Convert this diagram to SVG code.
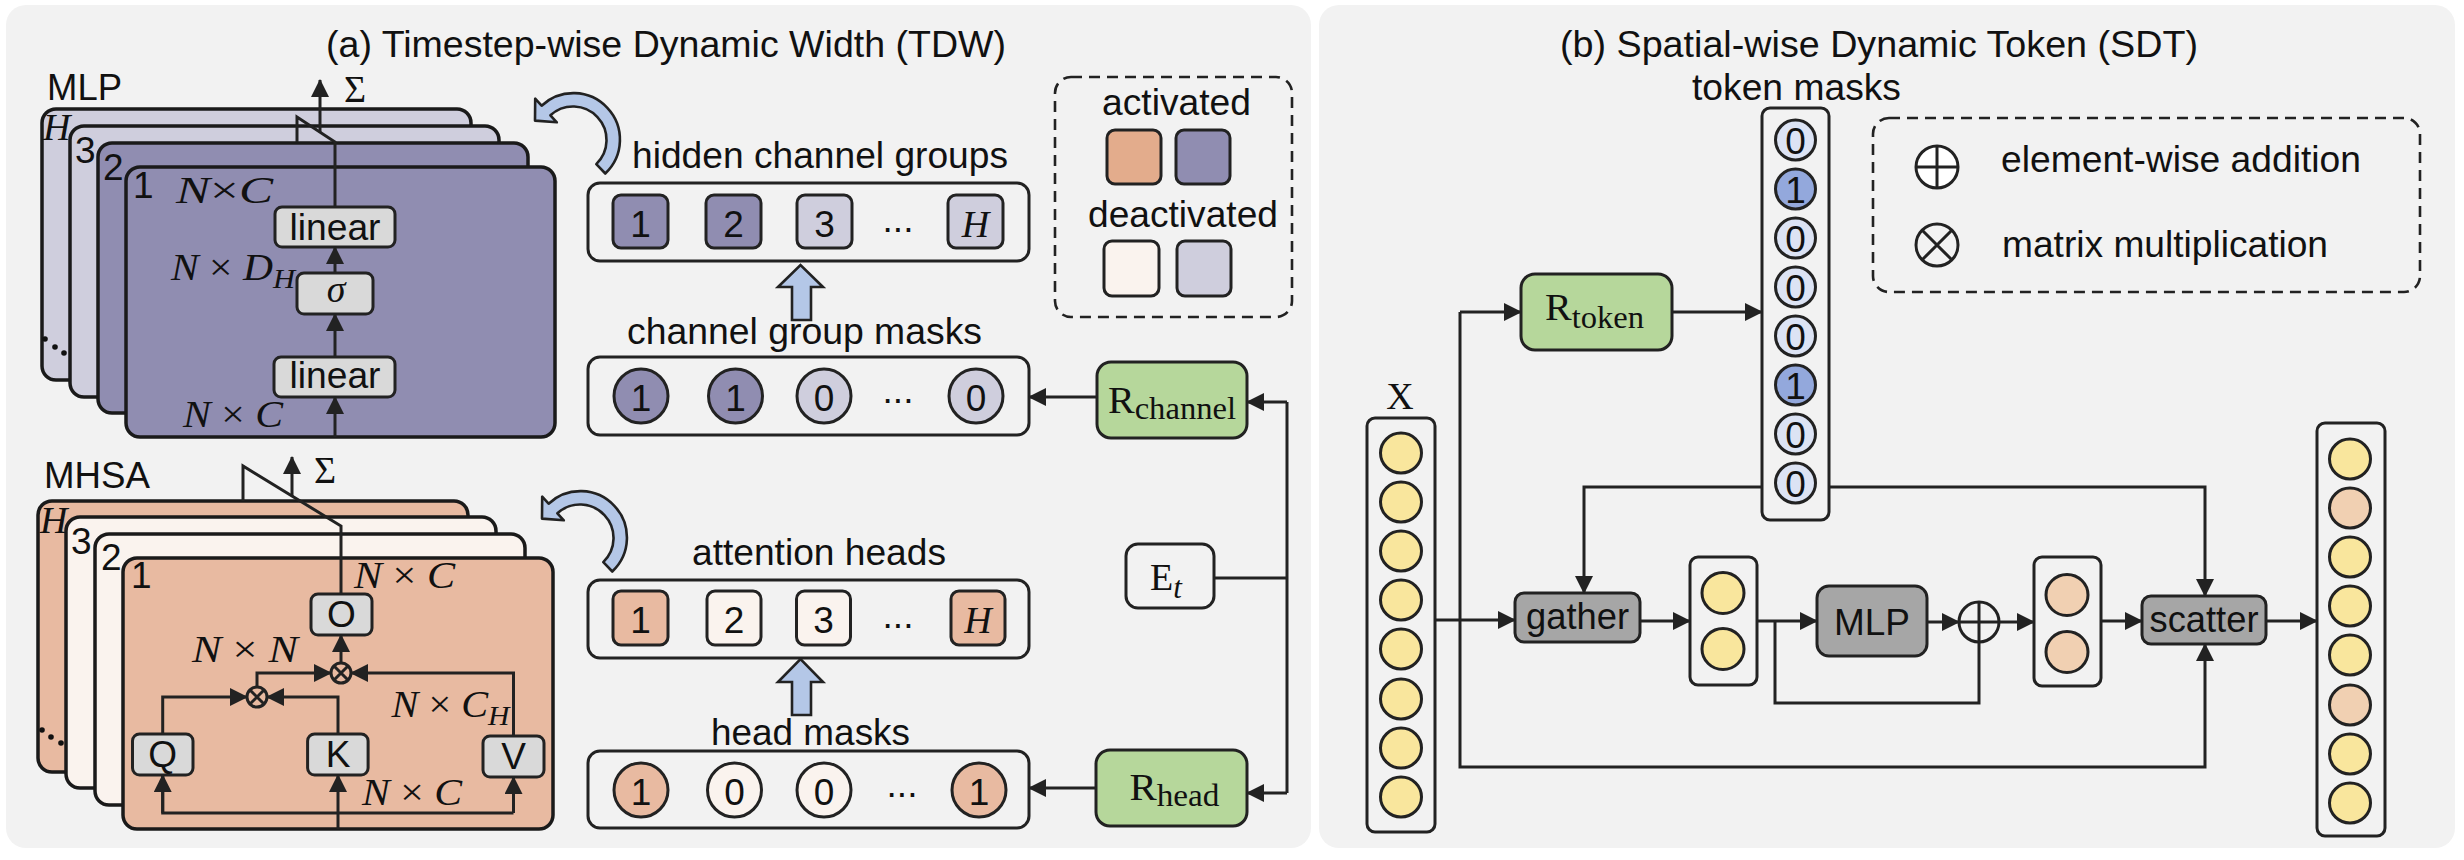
<svg xmlns="http://www.w3.org/2000/svg" width="2464" height="860" viewBox="0 0 2464 860">
<defs>
<style>
.t{font-family:"Liberation Sans",Arial,sans-serif;font-size:37px;fill:#111}
.m{font-family:"Liberation Serif","Times New Roman",serif;font-size:38px;fill:#111}
.i{font-style:italic}
.ln{stroke:#222;stroke-width:3;fill:none}
.bx{stroke:#222;stroke-width:3}
.cd{stroke:#1a1a1a;stroke-width:3.5}
.dash{fill:none;stroke:#222;stroke-width:2.6;stroke-dasharray:11 7}
.pur{fill:#908db1}.lav{fill:#cfcedd}.pea{fill:#e8baa1}.cre{fill:#faf3ee}
.grn{fill:#b6d79b}.lg{fill:#d9d9d9}.dg{fill:#a6a6a6}.blu{fill:#b4c7e7}
.yel{fill:#f9e69d}.opk{fill:#f1d0b2}.m0{fill:#dce3f4}.m1{fill:#93a8dc}
.mid{text-anchor:middle}
</style>
<marker id="ah" markerUnits="userSpaceOnUse" markerWidth="18" markerHeight="18" viewBox="0 0 18 18" refX="17" refY="9" orient="auto"><path d="M0,0 L18,9 L0,18 z" fill="#222"/></marker>
<path id="curv" d="M605.3,173.5 A46.5,46.5 0 0 0 541.6,105.7 L535.2,98.7 L535,120.6 L556.8,122.3 L550.4,115.3 A33.5,33.5 0 0 1 596.3,164.1 Z"/>
</defs>

<g id="panels">
<rect x="6" y="5" width="1305" height="843" rx="20" fill="#f2f2f2"/>
<rect x="1319" y="5" width="1136" height="843" rx="20" fill="#f2f2f2"/>
<text class="t mid" x="666" y="57" textLength="680" lengthAdjust="spacingAndGlyphs">(a) Timestep-wise Dynamic Width (TDW)</text>
<text class="t mid" x="1879" y="57" textLength="638" lengthAdjust="spacingAndGlyphs">(b) Spatial-wise Dynamic Token (SDT)</text>
</g>

<g id="mlp-stack">
<text class="t" x="47" y="100" textLength="75" lengthAdjust="spacingAndGlyphs">MLP</text>
<rect class="cd lav" x="42" y="109" width="429" height="271" rx="14"/>
<rect class="cd lav" x="70" y="126" width="429" height="271" rx="14"/>
<rect class="cd pur" x="98" y="143" width="430" height="270" rx="14"/>
<rect class="cd pur" x="126" y="167" width="429" height="270" rx="14"/>
<text class="m i" x="43" y="140" font-size="32">H</text>
<text class="t" x="75" y="163" font-size="35">3</text>
<text class="t" x="103" y="180" font-size="35">2</text>
<text class="t" x="133" y="198" font-size="35">1</text>
<circle cx="45" cy="339" r="2.8" fill="#111"/><circle cx="55" cy="347" r="2.8" fill="#111"/><circle cx="64" cy="353" r="2.8" fill="#111"/>
</g>

<g id="mlp-inner">
<rect class="bx lg" x="275" y="207" width="120" height="40" rx="7"/>
<text class="t mid" x="335" y="240" textLength="91" lengthAdjust="spacingAndGlyphs">linear</text>
<rect class="bx lg" x="297" y="273" width="76" height="41" rx="7"/>
<text class="m i mid" x="336" y="302" font-size="44">σ</text>
<rect class="bx lg" x="274" y="357" width="121" height="40" rx="7"/>
<text class="t mid" x="335" y="388" textLength="91" lengthAdjust="spacingAndGlyphs">linear</text>
<text class="m" x="176" y="203" textLength="97" lengthAdjust="spacingAndGlyphs"><tspan class="i">N</tspan>×<tspan class="i">C</tspan></text>
<text class="m" x="171" y="280" textLength="124" lengthAdjust="spacingAndGlyphs"><tspan class="i">N</tspan> × <tspan class="i">D</tspan><tspan class="i" font-size="28" dy="8">H</tspan></text>
<text class="m" x="183" y="427" textLength="100" lengthAdjust="spacingAndGlyphs"><tspan class="i">N</tspan> × <tspan class="i">C</tspan></text>
<text class="m" x="344" y="102" font-size="36">Σ</text>
</g>

<g id="mhsa-stack">
<text class="t" x="44" y="488" textLength="106" lengthAdjust="spacingAndGlyphs">MHSA</text>
<rect class="cd pea" x="38" y="501" width="430" height="271" rx="14"/>
<rect class="cd cre" x="66" y="517" width="430" height="271" rx="14"/>
<rect class="cd cre" x="95" y="534" width="430" height="271" rx="14"/>
<rect class="cd pea" x="123" y="558" width="430" height="271" rx="14"/>
<text class="m i" x="40" y="533" font-size="32">H</text>
<text class="t" x="71" y="554" font-size="35">3</text>
<text class="t" x="101" y="570" font-size="35">2</text>
<text class="t" x="131" y="588" font-size="35">1</text>
<circle cx="42" cy="730" r="2.8" fill="#111"/><circle cx="51" cy="737" r="2.8" fill="#111"/><circle cx="61" cy="743" r="2.8" fill="#111"/>
</g>

<g id="mhsa-inner">
<rect class="bx lg" x="311" y="594" width="61" height="41" rx="7"/>
<text class="t mid" x="341.5" y="627" font-size="36">O</text>
<rect class="bx lg" x="132.5" y="734" width="60.5" height="41" rx="7"/>
<text class="t mid" x="162.7" y="767" font-size="36">Q</text>
<rect class="bx lg" x="307.6" y="734" width="60.5" height="41" rx="7"/>
<text class="t mid" x="338" y="767" font-size="36">K</text>
<rect class="bx lg" x="483" y="736" width="61" height="41" rx="7"/>
<text class="t mid" x="513.5" y="769" font-size="36">V</text>
<g class="ln" stroke-width="2.5">
<circle cx="257" cy="697" r="10"/><path d="M250,690 L264,704 M264,690 L250,704"/>
<circle cx="341" cy="673" r="10"/><path d="M334,666 L348,680 M348,666 L334,680"/>
</g>
<text class="m" x="192" y="662" textLength="106" lengthAdjust="spacingAndGlyphs"><tspan class="i">N</tspan> × <tspan class="i">N</tspan></text>
<text class="m" x="354" y="588" textLength="101" lengthAdjust="spacingAndGlyphs"><tspan class="i">N</tspan> × <tspan class="i">C</tspan></text>
<text class="m" x="391.5" y="717" textLength="118" lengthAdjust="spacingAndGlyphs"><tspan class="i">N</tspan> × <tspan class="i">C</tspan><tspan class="i" font-size="28" dy="8">H</tspan></text>
<text class="m" x="362" y="805" textLength="100" lengthAdjust="spacingAndGlyphs"><tspan class="i">N</tspan> × <tspan class="i">C</tspan></text>
<text class="m" x="314" y="483" font-size="36">Σ</text>
</g>

<g id="curved-arrows" class="blu" stroke="#222" stroke-width="2.6" stroke-linejoin="round">
<use href="#curv"/>
<use href="#curv" transform="translate(7,398)"/>
</g>

<g id="hidden-channel-groups">
<text class="t" x="632" y="168" textLength="376" lengthAdjust="spacingAndGlyphs">hidden channel groups</text>
<rect class="bx" fill="none" x="588" y="183" width="441" height="78" rx="12"/>
<rect class="bx pur" x="613" y="195" width="55" height="53" rx="8"/>
<rect class="bx pur" x="706" y="195" width="55" height="53" rx="8"/>
<rect class="bx lav" x="797" y="195" width="55" height="53" rx="8"/>
<rect class="bx lav" x="948" y="195" width="55" height="53" rx="8"/>
<text class="t mid" x="640.5" y="237" font-size="42">1</text>
<text class="t mid" x="733.5" y="237" font-size="42">2</text>
<text class="t mid" x="824.5" y="237" font-size="42">3</text>
<text class="t mid" x="898" y="232">...</text>
<text class="m i mid" x="975.5" y="237" font-size="38">H</text>
</g>

<g id="channel-group-masks">
<path class="blu" stroke="#222" stroke-width="2.6" d="M792,320 L792,287 L778,287 L800.5,265 L823,287 L811,287 L811,320 Z"/>
<text class="t" x="627" y="344" textLength="355" lengthAdjust="spacingAndGlyphs">channel group masks</text>
<rect class="bx" fill="none" x="588" y="357" width="441" height="78" rx="12"/>
<circle class="bx pur" cx="641" cy="396" r="27"/>
<circle class="bx pur" cx="735.5" cy="396" r="27"/>
<circle class="bx lav" cx="824" cy="396" r="27"/>
<circle class="bx lav" cx="976" cy="396" r="27"/>
<text class="t mid" x="641" y="411" font-size="42">1</text>
<text class="t mid" x="735.5" y="411" font-size="42">1</text>
<text class="t mid" x="824" y="411" font-size="42">0</text>
<text class="t mid" x="898" y="403">...</text>
<text class="t mid" x="976" y="411" font-size="42">0</text>
</g>

<g id="attention-heads">
<text class="t" x="692" y="565" textLength="254" lengthAdjust="spacingAndGlyphs">attention heads</text>
<rect class="bx" fill="none" x="588" y="580" width="441" height="78" rx="12"/>
<rect class="bx pea" x="613" y="591" width="55" height="54" rx="8"/>
<rect class="bx cre" x="707" y="591" width="54" height="54" rx="8"/>
<rect class="bx cre" x="796.5" y="591" width="54" height="54" rx="8"/>
<rect class="bx pea" x="951" y="591" width="54" height="54" rx="8"/>
<text class="t mid" x="640.5" y="633" font-size="42">1</text>
<text class="t mid" x="734" y="633" font-size="42">2</text>
<text class="t mid" x="823.5" y="633" font-size="42">3</text>
<text class="t mid" x="898" y="628">...</text>
<text class="m i mid" x="978" y="633" font-size="38">H</text>
</g>

<g id="head-masks">
<path class="blu" stroke="#222" stroke-width="2.6" d="M792,715 L792,682 L778,682 L800.5,659 L823,682 L811,682 L811,715 Z"/>
<text class="t" x="711" y="745" textLength="199" lengthAdjust="spacingAndGlyphs">head masks</text>
<rect class="bx" fill="none" x="588" y="751" width="441" height="77" rx="12"/>
<circle class="bx pea" cx="641" cy="790" r="27"/>
<circle class="bx cre" cx="734.5" cy="790" r="27"/>
<circle class="bx cre" cx="824" cy="790" r="27"/>
<circle class="bx pea" cx="979" cy="790" r="27"/>
<text class="t mid" x="641" y="805" font-size="42">1</text>
<text class="t mid" x="734.5" y="805" font-size="42">0</text>
<text class="t mid" x="824" y="805" font-size="42">0</text>
<text class="t mid" x="902" y="797">...</text>
<text class="t mid" x="979" y="805" font-size="42">1</text>
</g>

<g id="legend-a">
<rect class="dash" x="1055" y="77" width="237" height="240" rx="16"/>
<text class="t" x="1102" y="115" textLength="149" lengthAdjust="spacingAndGlyphs">activated</text>
<rect class="bx" fill="#e3ac8c" x="1107" y="130" width="54" height="54" rx="8"/>
<rect class="bx pur" x="1176" y="130" width="54" height="54" rx="8"/>
<text class="t" x="1088" y="227" textLength="190" lengthAdjust="spacingAndGlyphs">deactivated</text>
<rect class="bx cre" x="1104" y="241" width="55" height="55" rx="8"/>
<rect class="bx lav" x="1177" y="241" width="54" height="55" rx="8"/>
</g>

<g id="r-channel">
<rect class="bx grn" x="1097" y="362" width="150" height="76" rx="14"/>
<text class="m" x="1108" y="413" font-size="42" textLength="128" lengthAdjust="spacingAndGlyphs">R<tspan font-size="31" dy="6">channel</tspan></text>
</g>
<g id="r-head">
<rect class="bx grn" x="1096" y="750" width="151" height="76" rx="14"/>
<text class="m" x="1129.5" y="800" font-size="42" textLength="90" lengthAdjust="spacingAndGlyphs">R<tspan font-size="31" dy="6">head</tspan></text>
</g>
<g id="e-t">
<rect class="bx" fill="none" x="1126" y="544" width="88" height="64" rx="12"/>
<text class="m" x="1150" y="590" font-size="42">E<tspan class="i" font-size="31" dy="8">t</tspan></text>
</g>

<g id="x-column">
<text class="m mid" x="1400" y="409" font-size="40">X</text>
<rect class="bx" fill="none" x="1367" y="418" width="68" height="414" rx="8"/>
<g class="bx yel">
<ellipse cx="1401" cy="453" rx="20.5" ry="20"/><ellipse cx="1401" cy="502" rx="20.5" ry="20"/>
<ellipse cx="1401" cy="551" rx="20.5" ry="20"/><ellipse cx="1401" cy="600" rx="20.5" ry="20"/>
<ellipse cx="1401" cy="649" rx="20.5" ry="20"/><ellipse cx="1401" cy="699" rx="20.5" ry="20"/>
<ellipse cx="1401" cy="748" rx="20.5" ry="20"/><ellipse cx="1401" cy="797" rx="20.5" ry="20"/>
</g>
</g>

<g id="r-token">
<rect class="bx grn" x="1521" y="274" width="151" height="76" rx="14"/>
<text class="m" x="1545" y="320" font-size="40" textLength="99" lengthAdjust="spacingAndGlyphs">R<tspan font-size="31" dy="8">token</tspan></text>
</g>

<g id="token-masks">
<text class="t" x="1692" y="100" textLength="209" lengthAdjust="spacingAndGlyphs">token masks</text>
<rect class="bx" fill="none" x="1762" y="108" width="67" height="412" rx="8"/>
<g class="bx">
<circle class="m0" cx="1795.5" cy="140" r="20"/><circle class="m1" cx="1795.5" cy="189" r="20"/>
<circle class="m0" cx="1795.5" cy="238" r="20"/><circle class="m0" cx="1795.5" cy="287" r="20"/>
<circle class="m0" cx="1795.5" cy="336" r="20"/><circle class="m1" cx="1795.5" cy="385" r="20"/>
<circle class="m0" cx="1795.5" cy="434" r="20"/><circle class="m0" cx="1795.5" cy="483" r="20"/>
</g>
<g class="t mid" font-size="39">
<text x="1795.5" y="154">0</text><text x="1795.5" y="203">1</text>
<text x="1795.5" y="252">0</text><text x="1795.5" y="301">0</text>
<text x="1795.5" y="350">0</text><text x="1795.5" y="399">1</text>
<text x="1795.5" y="448">0</text><text x="1795.5" y="497">0</text>
</g>
</g>

<g id="legend-b">
<rect class="dash" x="1873" y="118" width="547" height="174" rx="16"/>
<g class="ln" stroke-width="2.6">
<circle cx="1937" cy="167" r="21" fill="#fff"/><path d="M1916,167 H1958 M1937,146 V188"/>
<circle cx="1937" cy="245" r="21"/><path d="M1922.2,230.2 L1951.8,259.8 M1951.8,230.2 L1922.2,259.8"/>
</g>
<text class="t" x="2001" y="172" textLength="360" lengthAdjust="spacingAndGlyphs">element-wise addition</text>
<text class="t" x="2002" y="257" textLength="326" lengthAdjust="spacingAndGlyphs">matrix multiplication</text>
</g>

<g id="gather">
<rect class="bx dg" x="1515" y="593" width="125" height="49" rx="9"/>
<text class="t mid" x="1577.5" y="629" font-size="36" textLength="103" lengthAdjust="spacingAndGlyphs">gather</text>
</g>
<g id="gathered-tokens">
<rect class="bx" fill="none" x="1690" y="557" width="67" height="128" rx="8"/>
<ellipse class="bx yel" cx="1723" cy="593" rx="21" ry="20.5"/>
<ellipse class="bx yel" cx="1723" cy="649" rx="21" ry="20.5"/>
</g>
<g id="mlp-b">
<rect class="bx dg" x="1817" y="586" width="110" height="70" rx="12"/>
<text class="t mid" x="1872" y="635" textLength="76" lengthAdjust="spacingAndGlyphs">MLP</text>
</g>
<g id="add">
<circle class="ln" cx="1979" cy="622" r="20" fill="#fff"/>
<path class="ln" d="M1959,622 H1999 M1979,602 V642"/>
</g>
<g id="updated-tokens">
<rect class="bx" fill="none" x="2034" y="557" width="67" height="129" rx="8"/>
<ellipse class="bx opk" cx="2067" cy="595" rx="21" ry="20.5"/>
<ellipse class="bx opk" cx="2067" cy="652" rx="21" ry="20.5"/>
</g>
<g id="scatter">
<rect class="bx dg" x="2142" y="596" width="124" height="48" rx="9"/>
<text class="t mid" x="2204" y="632" font-size="36" textLength="109" lengthAdjust="spacingAndGlyphs">scatter</text>
</g>
<g id="output-column">
<rect class="bx" fill="none" x="2317" y="423" width="68" height="413" rx="8"/>
<g class="bx">
<ellipse class="yel" cx="2350" cy="459" rx="20.5" ry="20"/><ellipse class="opk" cx="2350" cy="508" rx="20.5" ry="20"/>
<ellipse class="yel" cx="2350" cy="557" rx="20.5" ry="20"/><ellipse class="yel" cx="2350" cy="606" rx="20.5" ry="20"/>
<ellipse class="yel" cx="2350" cy="655" rx="20.5" ry="20"/><ellipse class="opk" cx="2350" cy="705" rx="20.5" ry="20"/>
<ellipse class="yel" cx="2350" cy="754" rx="20.5" ry="20"/><ellipse class="yel" cx="2350" cy="803" rx="20.5" ry="20"/>
</g>
</g>

<g id="connectors" class="ln">
<path d="M335,437 V397" marker-end="url(#ah)"/>
<path d="M335,357 V314" marker-end="url(#ah)"/>
<path d="M335,273 V247" marker-end="url(#ah)"/>
<path d="M335,207 V142 L297,117 V142"/>
<path d="M320,132 V80" marker-end="url(#ah)"/>
<path d="M338,829 V775" marker-end="url(#ah)"/>
<path d="M162.7,775 V813 H513.5"/>
<path d="M162.7,813 V775" marker-end="url(#ah)"/>
<path d="M513.5,813 V777" marker-end="url(#ah)"/>
<path d="M162.7,734 V697 H247" marker-end="url(#ah)"/>
<path d="M338,734 V697 H267" marker-end="url(#ah)"/>
<path d="M257,687 V673 H331" marker-end="url(#ah)"/>
<path d="M513.5,736 V673 H351" marker-end="url(#ah)"/>
<path d="M341,663 V635" marker-end="url(#ah)"/>
<path d="M341,594 V526 L243,466 V501"/>
<path d="M292,496 V457" marker-end="url(#ah)"/>
<path d="M1097,397 H1029" marker-end="url(#ah)"/>
<path d="M1096,788 H1029" marker-end="url(#ah)"/>
<path d="M1287,402 H1247" marker-end="url(#ah)"/>
<path d="M1287,402 V793"/>
<path d="M1287,793 H1247" marker-end="url(#ah)"/>
<path d="M1214,578 H1287"/>
<path d="M1460,312 H1521" marker-end="url(#ah)"/>
<path d="M1460,312 V767 H2205 V644" marker-end="url(#ah)"/>
<path d="M1672,312 H1762" marker-end="url(#ah)"/>
<path d="M1435,620 H1515" marker-end="url(#ah)"/>
<path d="M1762,487 H1584 V593" marker-end="url(#ah)"/>
<path d="M1829,487 H2205 V596" marker-end="url(#ah)"/>
<path d="M1640,621 H1690" marker-end="url(#ah)"/>
<path d="M1757,621 H1817" marker-end="url(#ah)"/>
<path d="M1775,621 V703 H1979 V642"/>
<path d="M1927,622 H1959" marker-end="url(#ah)"/>
<path d="M1999,622 H2034" marker-end="url(#ah)"/>
<path d="M2101,621 H2142" marker-end="url(#ah)"/>
<path d="M2266,621 H2317" marker-end="url(#ah)"/>
</g>
</svg>
